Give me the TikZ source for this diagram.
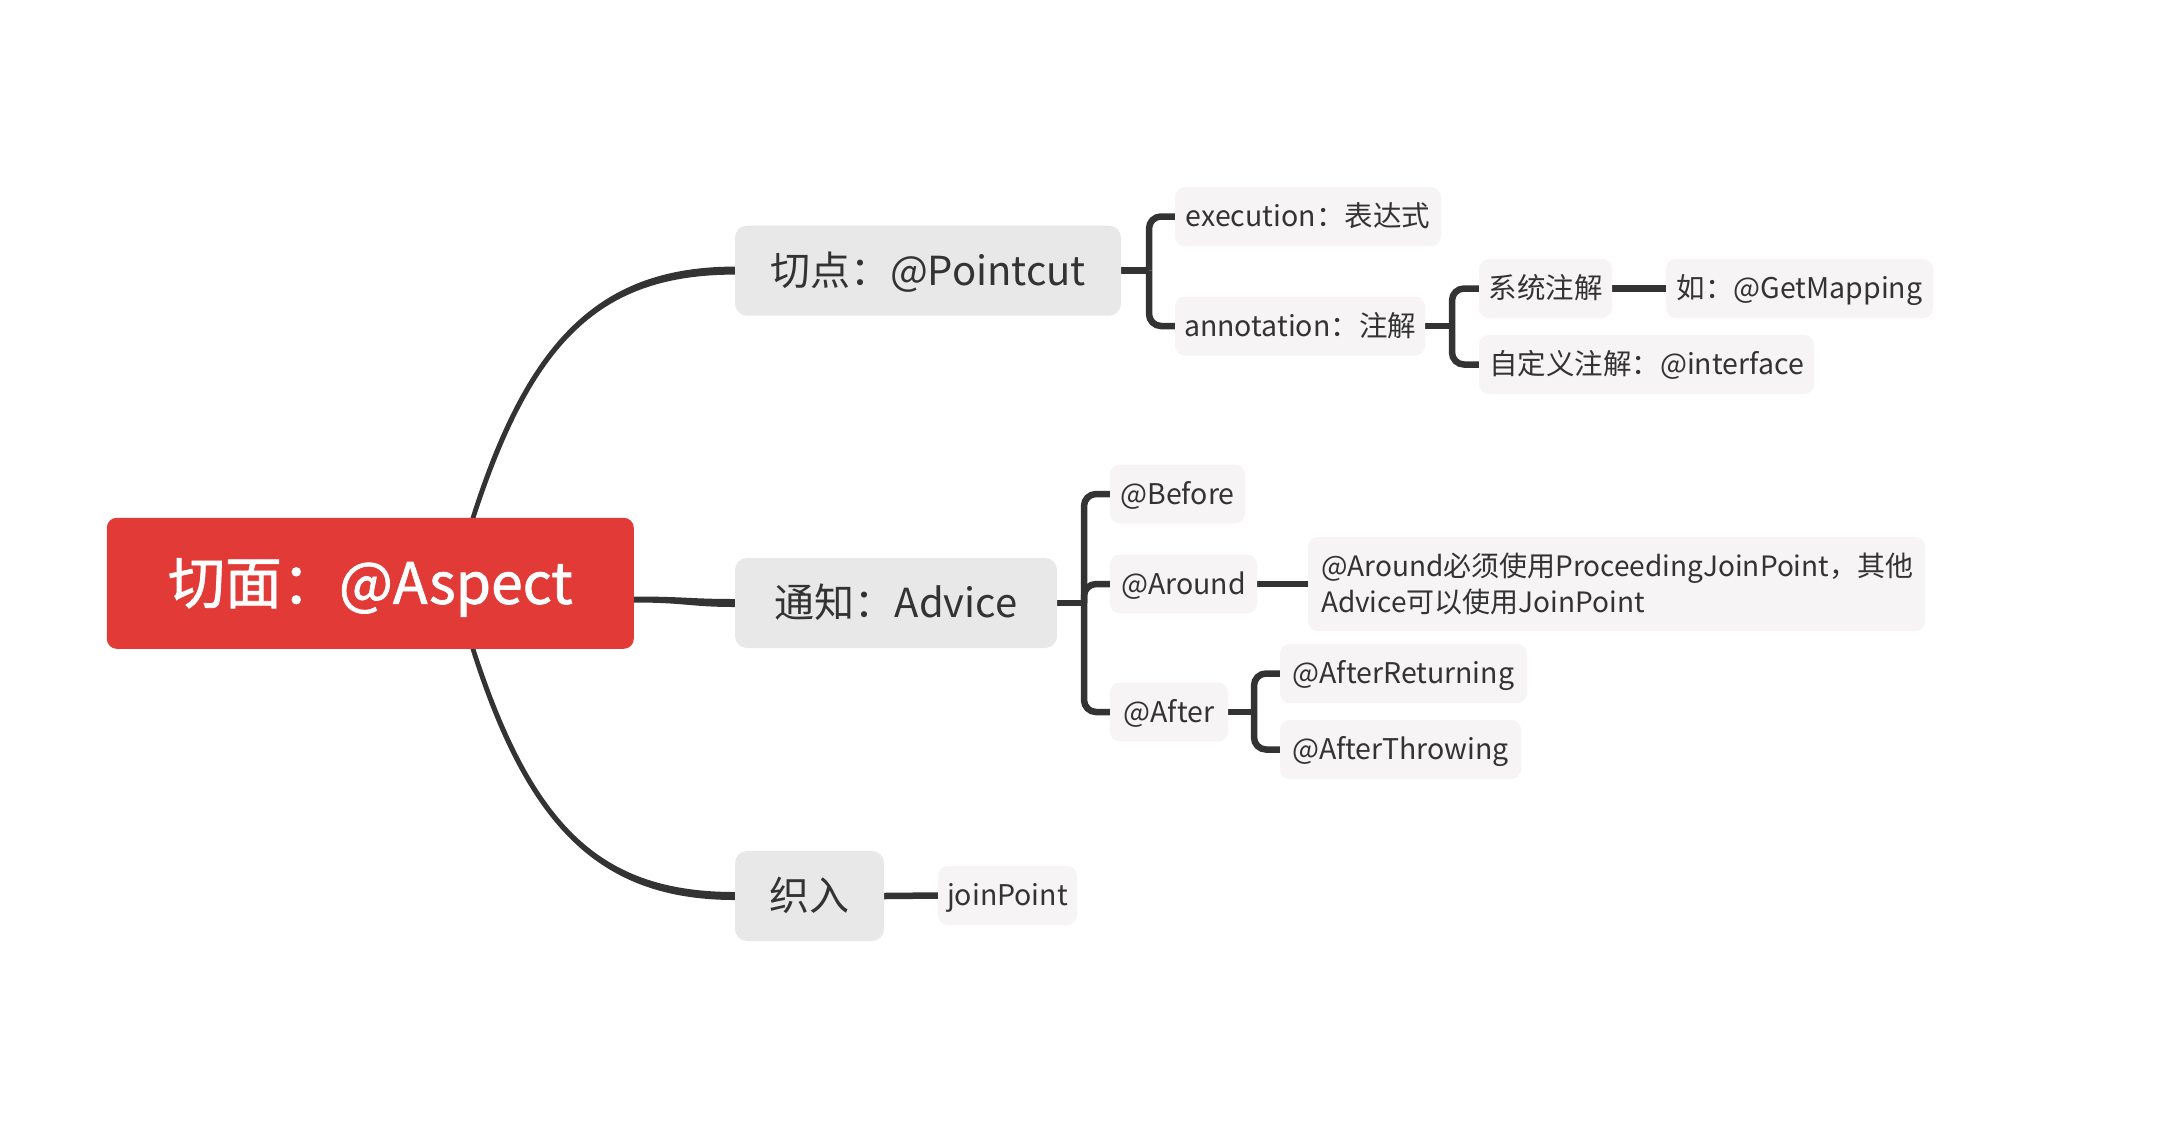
\documentclass[tikz,border=0pt]{standalone}
\usepackage{fontspec}
\setmainfont{Noto Sans CJK SC}
\newfontfamily\rootfont{Noto Sans CJK SC}[FakeBold=1.3]
\usetikzlibrary{backgrounds}
\pgfdeclarelayer{bottom}
\pgfsetlayers{bottom,background,main}
\definecolor{lc}{HTML}{333333}
\definecolor{tc}{HTML}{333333}
\definecolor{l1c}{HTML}{E8E8E8}
\definecolor{l2c}{HTML}{F6F4F4}
\definecolor{rootc}{HTML}{E23B37}
\tikzset{
  conn/.style={draw=lc, line width=6.5bp, rounded corners=12bp},
  rootconn/.style={fill=lc, draw=none},
  rootbox/.style={fill=rootc, rounded corners=10bp, text=white, inner sep=0,
    font=\rootfont\fontsize{57bp}{66bp}\selectfont, text height=52.4bp, text depth=11.4bp},
  l1/.style={fill=l1c, rounded corners=12bp, text=tc, inner sep=0,
    font=\fontsize{40bp}{48bp}\selectfont, minimum height=90bp,
    text height=36.8bp, text depth=8bp},
  l2base/.style={fill=l2c, rounded corners=10bp, text=tc, inner sep=0,
    font=\fontsize{28.5bp}{36bp}\selectfont, minimum height=59bp},
  l2/.style={l2base, text height=26.2bp, text depth=5.7bp},
}
\begin{document}
\begin{tikzpicture}[x=1bp, y=-1bp]
\begin{pgfonlayer}{bottom}
\path[use as bounding box, fill=white] (0,0) rectangle (2170,1136);
\end{pgfonlayer}

% nodes
\node[rootbox, minimum width=527bp, minimum height=131bp] (root) at (370.3,583.3) {切面：@Aspect};
\node[l1, minimum width=386bp] (pc) at (928,270.6) {切点：@Pointcut};
\node[l1, minimum width=322bp] (adv) at (896,603) {通知：Advice};
\node[l1, minimum width=149bp] (zr) at (809.5,896) {织入};

\node[l2, minimum width=266bp] (exe) at (1308,216.5) {execution：表达式};
\node[l2, minimum width=250bp] (ann) at (1300,326) {annotation：注解};
\node[l2, minimum width=133bp] (sys) at (1545.5,288.5) {系统注解};
\node[l2, minimum width=267bp] (get) at (1799.5,288.5) {如：@GetMapping};
\node[l2, minimum width=335bp] (cus) at (1646.5,364.5) {自定义注解：@interface};

\node[l2, minimum width=135bp] (bef) at (1177.5,494) {@Before};
\node[l2, minimum width=147bp] (aro) at (1183.5,584) {@Around};
\node[l2base, minimum width=617bp, minimum height=94bp, text width=591bp, align=left,
  font=\fontsize{28bp}{36bp}\selectfont] (lng) at (1616.5,584)
  {@Around必须使用ProceedingJoinPoint，其他\\Advice可以使用JoinPoint};
\node[l2, minimum width=118bp] (aft) at (1169,712) {@After};
\node[l2, minimum width=247bp] (ar) at (1403.5,673.5) {@AfterReturning};
\node[l2, minimum width=241bp] (at) at (1400.5,749.5) {@AfterThrowing};

\node[l2, minimum width=139bp] (jp) at (1007.5,895.5) {joinPoint};

\begin{scope}[on background layer]
% root connectors (tapered)
\coordinate (rt) at (473,518);
\coordinate (rb) at (473,649);
\coordinate (rr) at (634,599.5);
\path[rootconn] ([xshift=-2.5bp]rt) .. controls (527,339) and (600,266.6) .. ([yshift=4bp]pc.west)
  -- ([yshift=-4bp]pc.west) .. controls (600,274.6) and (533,341) .. ([xshift=2.5bp]rt) -- cycle;
\path[rootconn] ([yshift=3bp]rr) .. controls (685,596.5) and (690,599) .. ([yshift=4bp]adv.west)
  -- ([yshift=-4bp]adv.west) .. controls (690,607) and (685,602.5) .. ([yshift=-3bp]rr) -- cycle;
\path[rootconn] ([xshift=-2.5bp]rb) .. controls (527,828) and (600,900) .. ([yshift=-4bp]zr.west)
  -- ([yshift=4bp]zr.west) .. controls (600,892) and (533,826) .. ([xshift=2.5bp]rb) -- cycle;

% pointcut bracket
\coordinate (pcv) at (1149,270.6);
\draw[conn] (pc.east) -- (pcv);
\draw[conn] (pcv) |- (exe.west);
\draw[conn] (pcv) |- (ann.west);

% annotation bracket
\coordinate (anv) at (1452,326);
\draw[conn] (ann.east) -- (anv);
\draw[conn] (anv) |- (sys.west);
\draw[conn] (anv) |- (cus.west);
\draw[conn] (sys.east) -- (get.west);

% advice bracket
\coordinate (adv1) at (1084,603);
\draw[conn] (adv.east) -- (adv1);
\draw[conn] (adv1) |- (bef.west);
\draw[conn] (adv1) |- (aro.west);
\draw[conn] (adv1) |- (aft.west);
\draw[conn] (aro.east) -- (lng.west);

% after bracket
\coordinate (afv) at (1254,712);
\draw[conn] (aft.east) -- (afv);
\draw[conn] (afv) |- (ar.west);
\draw[conn] (afv) |- (at.west);

% weave
\draw[conn] (zr.east) -- (jp.west);
\end{scope}
\end{tikzpicture}
\end{document}
